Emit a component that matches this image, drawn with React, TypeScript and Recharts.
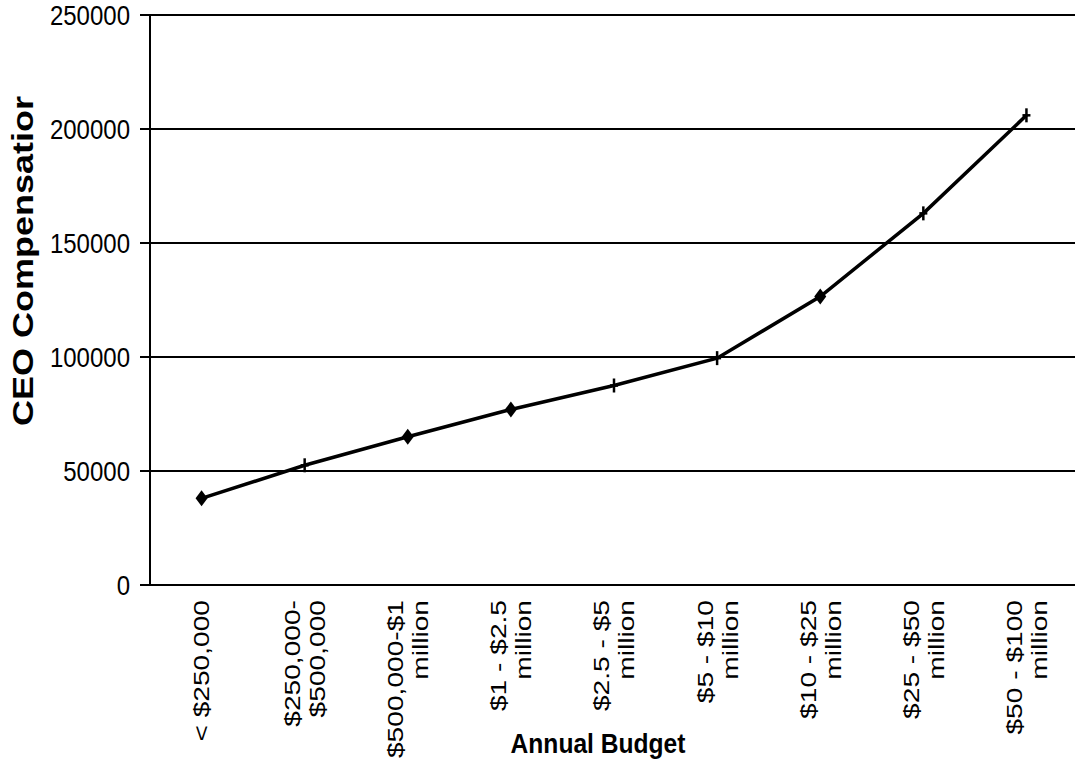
import React from "react";
import { LineChart, Line, XAxis, YAxis, CartesianGrid, Label } from "recharts";

const categories = [
  "< $250,000",
  "$250,000-\n$500,000",
  "$500,000-$1\nmillion",
  "$1 - $2.5\nmillion",
  "$2.5 - $5\nmillion",
  "$5 - $10\nmillion",
  "$10 - $25\nmillion",
  "$25 - $50\nmillion",
  "$50 - $100\nmillion",
];
const compensation = [38000, 52500, 65000, 77000, 87500, 99500, 126500, 163000, 206000];
const yTicks = [0, 50000, 100000, 150000, 200000, 250000];
const markerShapes = ["diamond", "plus", "diamond", "diamond", "plus", "plus", "diamond", "plus", "plus"];

const data = categories.map((name, i) => ({ name, value: compensation[i] }));
// tick marks sit on the band edges, not the band centres
const bandEdges = categories.map((_, i) => i).concat(categories.length);

const FONT = '"Liberation Sans", Arial, sans-serif';
const INK = "#000";

const ValueTick = (props: any) => {
  const { x, y, payload } = props;
  return (
    <g transform={`translate(${x}, ${y}) scale(1, 1.16)`}>
      <text x={0} y={0} dy="0.36em" textAnchor="end" fontSize={24} fontFamily={FONT} fill={INK}>
        {payload.value}
      </text>
    </g>
  );
};

const CategoryTick = (props: any) => {
  const { x, payload } = props;
  const lines = String(payload.value).split("\n");
  const gap = 25;
  return (
    <g transform={`translate(${x}, 600) rotate(-90) scale(1.28, 1)`}>
      <text textAnchor="end" fontSize={22} fontFamily={FONT} fill={INK}>
        {lines.map((ln, i) => (
          <tspan key={i} x={0} y={(i - (lines.length - 1) / 2) * gap + 7.9}>
            {ln}
          </tspan>
        ))}
      </text>
    </g>
  );
};

const renderMarker = (props: any) => {
  const { cx, cy, index } = props;
  if (cx == null || cy == null) return <g key={`m-${index}`} />;
  if (markerShapes[index] === "diamond") {
    return (
      <polygon
        key={`m-${index}`}
        points={`${cx},${cy - 8} ${cx + 6},${cy} ${cx},${cy + 8} ${cx - 6},${cy}`}
        fill={INK}
      />
    );
  }
  return (
    <g key={`m-${index}`} stroke={INK} strokeWidth={2.5}>
      <line x1={cx} y1={cy - 7} x2={cx} y2={cy + 7} />
      <line x1={cx - 4} y1={cy} x2={cx + 4} y2={cy} />
    </g>
  );
};

const xTitle = () => (
  <text
    transform="translate(598, 753) scale(1, 1.14)"
    textAnchor="middle"
    fontWeight="bold"
    fontSize={24.6}
    fontFamily={FONT}
    fill={INK}
  >
    Annual Budget
  </text>
);

const yTitle = () => (
  <text
    transform="translate(33, 261) rotate(-90) scale(1.2, 1)"
    textAnchor="middle"
    fontWeight="bold"
    fontSize={30}
    fontFamily={FONT}
    fill={INK}
  >
    CEO Compensatior
  </text>
);

export default function App() {
  return (
    <div
      style={{
        position: "absolute",
        left: 0,
        top: 0,
        width: 1075,
        height: 764,
        overflow: "hidden",
        background: "#fff",
      }}
    >
      <LineChart width={1080} height={764} data={data} margin={{ top: 15, right: 2, bottom: 0, left: 0 }}>
        <CartesianGrid xAxisId="cat" vertical={false} stroke={INK} strokeWidth={2} />
        <XAxis
          xAxisId="edges"
          type="number"
          domain={[0, categories.length]}
          ticks={bandEdges}
          allowDataOverflow
          tick={false}
          tickSize={8}
          height={0}
          axisLine={{ stroke: INK, strokeWidth: 2 }}
          tickLine={{ stroke: INK, strokeWidth: 2 }}
        />
        <XAxis
          xAxisId="cat"
          dataKey="name"
          type="category"
          scale="band"
          interval={0}
          height={179}
          tickSize={0}
          tickMargin={0}
          axisLine={false}
          tickLine={false}
          tick={<CategoryTick />}
        >
          <Label content={xTitle} />
        </XAxis>
        <YAxis
          domain={[0, 250000]}
          ticks={yTicks}
          interval={0}
          width={150}
          tickSize={10}
          tickMargin={10}
          axisLine={{ stroke: INK, strokeWidth: 2 }}
          tickLine={{ stroke: INK, strokeWidth: 2 }}
          tick={<ValueTick />}
        >
          <Label content={yTitle} />
        </YAxis>
        <Line
          xAxisId="cat"
          type="linear"
          dataKey="value"
          stroke={INK}
          strokeWidth={3.5}
          dot={renderMarker}
          activeDot={false}
          isAnimationActive={false}
        />
      </LineChart>
    </div>
  );
}
